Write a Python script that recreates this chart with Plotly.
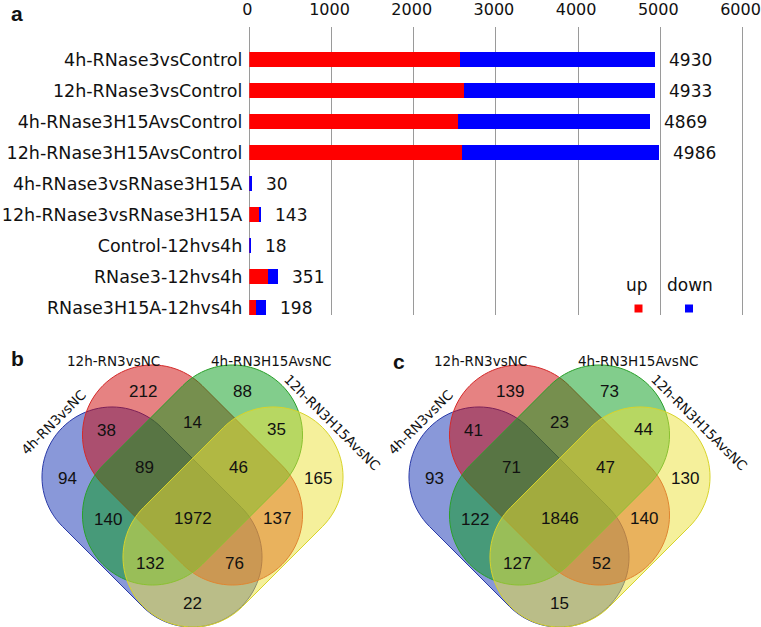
import math
import plotly.graph_objects as go

# ---------------- data ----------------
categories = [
    "4h-RNase3vsControl",
    "12h-RNase3vsControl",
    "4h-RNase3H15AvsControl",
    "12h-RNase3H15AvsControl",
    "4h-RNase3vsRNase3H15A",
    "12h-RNase3vsRNase3H15A",
    "Control-12hvs4h",
    "RNase3-12hvs4h",
    "RNase3H15A-12hvs4h",
]
totals = [4930, 4933, 4869, 4986, 30, 143, 18, 351, 198]
up_counts = [2566, 2607, 2538, 2591, 12, 128, 3, 228, 78]
down_counts = [t - u for t, u in zip(totals, up_counts)]
x_ticks = [0, 1000, 2000, 3000, 4000, 5000, 6000]
legend_labels = ["up", "down"]

venn_set_names = ["4h-RN3vsNC", "12h-RN3vsNC", "4h-RN3H15AvsNC", "12h-RN3H15AvsNC"]
venn_region_keys = ["A", "B", "C", "D", "AB", "BC", "CD", "ABC", "BCD",
                    "AC", "ABCD", "BD", "ACD", "ABD", "AD"]
venn_b_counts = [94, 212, 88, 165, 38, 14, 35, 89, 46, 140, 1972, 137, 132, 76, 22]
venn_c_counts = [93, 139, 73, 130, 41, 23, 44, 71, 47, 122, 1846, 140, 127, 52, 15]

# ---------------- layout helpers (pixel -> paper) ----------------
W, H = 761, 627
def fx(x):
    return x / W
def fy(y):
    return 1 - y / H

ROW0, ROWSTEP = 59.7, 31.0
PLOT_TOP, PLOT_BOT = 27.0, 315.0
X0_PX = 249.3
PX_PER_UNIT = (742.5 - 249.3) / 6000.0
X_MAX = 6030
X_END_PX = X0_PX + X_MAX * PX_PER_UNIT

fig = go.Figure()
idx = list(range(len(categories)))
fig.add_trace(go.Bar(y=idx, x=up_counts, orientation="h", width=0.47,
                     marker=dict(color="#ff0000", line=dict(width=0)),
                     showlegend=False, hoverinfo="x+y"))
fig.add_trace(go.Bar(y=idx, x=down_counts, orientation="h", width=0.47,
                     marker=dict(color="#0000ff", line=dict(width=0)),
                     showlegend=False, hoverinfo="x+y"))

annotations = []
shapes = []

# value labels
for i, t in enumerate(totals):
    annotations.append(dict(x=t, y=i, xref="x", yref="y", text=str(t), showarrow=False,
                            xanchor="left", yanchor="middle", xshift=12,
                            font=dict(family="DejaVu Sans", size=17, color="#111")))

# legend
leg_pos = [(637, 638.5), (690, 689)]
leg_colors = ["#ff0000", "#0000ff"]
for lab, (tx, sx), col in zip(legend_labels, leg_pos, leg_colors):
    annotations.append(dict(x=fx(tx), y=fy(285), xref="paper", yref="paper", text=lab,
                            showarrow=False, xanchor="center", yanchor="middle",
                            font=dict(family="DejaVu Sans", size=17, color="#111")))
    shapes.append(dict(type="rect", xref="paper", yref="paper",
                       x0=fx(sx - 4), x1=fx(sx + 4), y0=fy(312.5), y1=fy(304.5),
                       fillcolor=col, line=dict(width=0)))

# panel letters
for lab, (lx, ly) in zip(["a", "b", "c"], [(17, 13), (17.5, 358.5), (398.5, 361)]):
    annotations.append(dict(x=fx(lx), y=fy(ly), xref="paper", yref="paper",
                            text="<b>%s</b>" % lab, showarrow=False,
                            xanchor="center", yanchor="middle",
                            font=dict(family="Liberation Sans, Arial", size=21, color="#111")))

# ---------------- venn diagrams ----------------
def capsule_path(cx, cy, ux, uy, h, r, n=48):
    norm = math.hypot(ux, uy)
    ux, uy = ux / norm, uy / norm
    vx, vy = -uy, ux
    pts = []
    c1 = (cx + ux * h, cy + uy * h)
    for i in range(n + 1):
        t = -math.pi / 2 + math.pi * i / n
        dx = math.cos(t) * ux + math.sin(t) * vx
        dy = math.cos(t) * uy + math.sin(t) * vy
        pts.append((c1[0] + r * dx, c1[1] + r * dy))
    c2 = (cx - ux * h, cy - uy * h)
    for i in range(n + 1):
        t = math.pi / 2 + math.pi * i / n
        dx = math.cos(t) * ux + math.sin(t) * vx
        dy = math.cos(t) * uy + math.sin(t) * vy
        pts.append((c2[0] + r * dx, c2[1] + r * dy))
    return "M " + " L ".join("%.5f,%.5f" % (fx(x), fy(y)) for x, y in pts) + " Z"

CAP_H, CAP_R = 56.6, 70.0
venn_fill = ["rgba(20,50,180,0.5)", "rgba(205,5,5,0.5)",
             "rgba(5,155,25,0.5)", "rgba(235,225,55,0.5)"]
venn_line = ["#2a3aa8", "#d42a2a", "#2aa02a", "#d8d42a"]
# (dx from panel center, cy, axis direction)
venn_geom = [(-40.5, 517, (1, 1)), (0, 475, (1, 1)), (0, 475, (1, -1)), (40.5, 517, (1, -1))]

region_pos = {
    "A": (-125.5, 478), "B": (-50, 391.5), "C": (50, 391.5), "D": (125.5, 478),
    "AB": (-86, 430.5), "BC": (0, 422), "CD": (84, 429),
    "ABC": (-48, 467.5), "BCD": (46, 467.5),
    "AC": (-84.5, 519), "ABCD": (0, 518), "BD": (84.5, 518),
    "ACD": (-42.5, 563.5), "ABD": (41.5, 563.5), "AD": (0, 603),
}
set_label_pos = [(-139, 422, -45), (-79.5, 361, 0), (78.5, 361, 0), (139.5, 422, 45)]

for xc, counts in [(192.5, venn_b_counts), (559.5, venn_c_counts)]:
    for (dx, cy, (ux, uy)), fc, lc in zip(venn_geom, venn_fill, venn_line):
        shapes.append(dict(type="path", xref="paper", yref="paper",
                           path=capsule_path(xc + dx, cy, ux, uy, CAP_H, CAP_R),
                           fillcolor=fc, line=dict(color=lc, width=1), layer="above"))
    for key, val in zip(venn_region_keys, counts):
        rx, ry = region_pos[key]
        annotations.append(dict(x=fx(xc + rx), y=fy(ry), xref="paper", yref="paper",
                                text=str(val), showarrow=False, xanchor="center",
                                yanchor="middle",
                                font=dict(family="Liberation Sans, Arial", size=17, color="#111")))
    for name, (lx, ly, ang) in zip(venn_set_names, set_label_pos):
        annotations.append(dict(x=fx(xc + lx), y=fy(ly), xref="paper", yref="paper",
                                text=name, showarrow=False, xanchor="center",
                                yanchor="middle", textangle=ang,
                                font=dict(family="DejaVu Sans", size=13.5, color="#111")))

yr_top = (PLOT_TOP - ROW0) / ROWSTEP
yr_bot = (PLOT_BOT - ROW0) / ROWSTEP

fig.update_layout(
    width=W, height=H, autosize=False,
    margin=dict(l=0, r=0, t=0, b=0, pad=0),
    paper_bgcolor="white", plot_bgcolor="white",
    barmode="stack", showlegend=False,
    xaxis=dict(domain=[fx(X0_PX), min(1.0, fx(X_END_PX))], range=[0, X_MAX], side="top",
               tickvals=x_ticks, ticktext=[str(v) for v in x_ticks],
               showgrid=True, gridcolor="#9a9a9a", gridwidth=1,
               zeroline=True, zerolinecolor="#9a9a9a", zerolinewidth=1,
               showline=False, ticks="", fixedrange=True, ticklabelstandoff=8,
               ticklabelshift=-2, ticklabeloverflow="allow", automargin=False,
               tickfont=dict(family="DejaVu Sans", size=16, color="#111")),
    yaxis=dict(domain=[fy(PLOT_BOT), fy(PLOT_TOP)], range=[yr_bot, yr_top],
               tickvals=idx, ticktext=categories, showgrid=False, zeroline=False,
               showline=False, ticks="", fixedrange=True, ticklabelstandoff=6,
               automargin=False,
               tickfont=dict(family="DejaVu Sans", size=17.5, color="#111")),
    annotations=annotations,
    shapes=shapes,
)

fig.write_html("out.html", config={"displayModeBar": False},
               post_script="document.body.style.margin='0';document.body.style.overflow='hidden';")
